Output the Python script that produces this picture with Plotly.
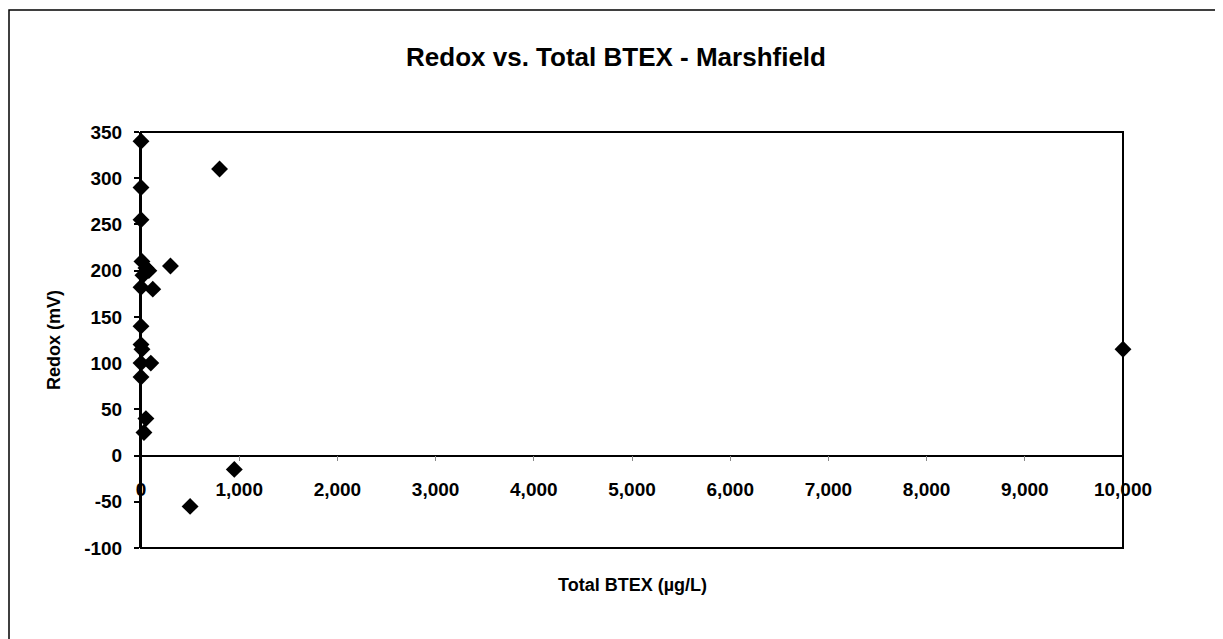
import plotly.graph_objects as go

# Data
btex = [0, 0, 0, 10, 50, 20, 0, 120, 80, 300, 800, 0, 0, 10, 0, 100, 0, 50, 30, 950, 500, 10000]
redox = [340, 290, 255, 210, 203, 195, 182, 180, 200, 205, 310, 140, 120, 115, 100, 100, 85, 40, 25, -15, -55, 115]

x_range = [0, 10000]
y_range = [-100, 350]
y_ticks = [-100, -50, 0, 50, 100, 150, 200, 250, 300, 350]
y_tick_labels = ["-100", "-50", "0", "50", "100", "150", "200", "250", "300", "350"]
title_text = "Redox vs. Total BTEX - Marshfield"
x_title = "Total BTEX (µg/L)"
y_title = "Redox (mV)"

FONT = "Liberation Sans, Arial, sans-serif"

# The page body has an 8px margin, so the figure is laid out in page coordinates shifted by 8px.
OFF = 8
W, H = 1223 - OFF, 639 - OFF
PL, PR, PT, PB = 141, 1123, 132, 548  # plot area in window pixels
pw, ph = PR - PL, PB - PT

fig = go.Figure()
fig.add_trace(go.Scatter(
    x=btex, y=redox, mode="markers",
    marker=dict(symbol="diamond", size=13, color="black", line=dict(width=0)),
    cliponaxis=False, showlegend=False,
))

zero_pos = (0 - y_range[0]) / (y_range[1] - y_range[0])

fig.update_layout(
    width=W, height=H,
    margin=dict(l=PL - OFF, r=W - (PR - OFF), t=PT - OFF, b=H - (PB - OFF)),
    paper_bgcolor="white", plot_bgcolor="white",
    title=dict(text=title_text, x=(616 - OFF) / W, xanchor="center", y=1 - (57 - OFF) / H, yanchor="middle",
               font=dict(family=FONT, size=26, color="black", weight="bold")),
    xaxis=dict(
        range=x_range, dtick=1000, tickformat=",d",
        anchor="free", position=zero_pos,
        showline=True, linecolor="black", linewidth=1.5,
        ticks="outside", ticklen=5, tickcolor="#888", tickwidth=1,
        ticklabelstandoff=12,
        showgrid=False, zeroline=False,
        tickfont=dict(family=FONT, size=19, color="black", weight="bold"),
    ),
    yaxis=dict(
        range=y_range, tickvals=y_ticks, ticktext=y_tick_labels,
        showline=True, linecolor="black", linewidth=2,
        ticks="outside", ticklen=5, tickcolor="black", tickwidth=1.5,
        ticklabelstandoff=8,
        showgrid=False, zeroline=False,
        tickfont=dict(family=FONT, size=19, color="black", weight="bold"),
        title=dict(text=y_title, font=dict(family=FONT, size=18, color="black", weight="bold"),
                   standoff=19),
    ),
    shapes=[
        # plot frame
        dict(type="rect", xref="paper", yref="paper", x0=0, y0=0, x1=1, y1=1,
             line=dict(color="black", width=2), fillcolor="rgba(0,0,0,0)", layer="above"),
        # outer chart border (left and top visible)
        dict(type="rect", xref="paper", yref="paper", x0=(OFF + 1 - PL) / pw, y0=(PB - 700) / ph,
             x1=(1260 - PL) / pw, y1=(PB - 10) / ph,
             line=dict(color="black", width=1.5), fillcolor="rgba(0,0,0,0)", layer="above"),
    ],
)

# x-axis title below the plot frame
fig.add_annotation(text=x_title, xref="paper", yref="paper", x=0.5, y=(PB - 585) / ph,
                   showarrow=False, yanchor="middle",
                   font=dict(family=FONT, size=18, color="black", weight="bold"))

fig.write_html("out.html")
